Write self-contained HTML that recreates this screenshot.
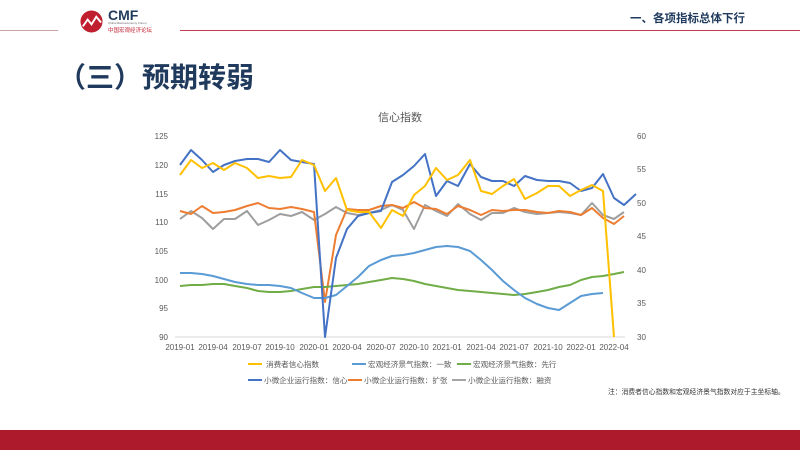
<!DOCTYPE html>
<html><head><meta charset="utf-8"><style>
body{margin:0;width:800px;height:450px;overflow:hidden;background:#fff;font-family:"Liberation Sans","Noto Sans CJK SC",sans-serif;position:relative}
.t{position:absolute;white-space:nowrap}
</style></head><body>
<div style="position:absolute;left:0;top:30px;width:58px;height:1px;background:#c9a4a8"></div>
<div style="position:absolute;left:180px;top:30px;width:620px;height:1px;background:#c04050"></div>
<svg style="position:absolute;left:80px;top:10px" width="23" height="23" viewBox="0 0 24 24"><circle cx="12" cy="12" r="11.5" fill="#c01f2f"/><polyline points="3,17 8,10 12,15 17,7 22,13" fill="none" stroke="#fff" stroke-width="2"/></svg>
<div class="t" style="left:108px;top:7px;font-size:14px;font-weight:bold;color:#1f3a5c">CMF</div>
<div class="t" style="left:108px;top:21px;font-size:3px;color:#666">China Macroeconomy Forum</div>
<div class="t" style="left:108px;top:26px;font-size:5.5px;color:#c01f2f">中国宏观经济论坛</div>
<div class="t" style="left:630px;top:10px;font-size:11.5px;font-weight:bold;color:#1f3a5c">一、各项指标总体下行</div>
<div class="t" style="left:58px;top:56px;font-size:28px;font-weight:bold;color:#1f3a5c">（三）预期转弱</div>
<svg style="position:absolute;left:0;top:0" width="800" height="450" font-family="Liberation Sans, Noto Sans CJK SC, sans-serif">
<text x="400" y="121" font-size="11" fill="#555" text-anchor="middle">信心指数</text>
<line x1="175" y1="337" x2="625" y2="337" stroke="#d9d9d9"/>
<g font-size="8" fill="#595959" text-anchor="end">
<text x="168" y="139">125</text><text x="168" y="168">120</text><text x="168" y="197">115</text><text x="168" y="225">110</text><text x="168" y="254">105</text><text x="168" y="283">100</text><text x="168" y="311">95</text><text x="168" y="340">90</text></g>
<g font-size="8" fill="#595959">
<text x="637" y="139">60</text><text x="637" y="172">55</text><text x="637" y="206">50</text><text x="637" y="239">45</text><text x="637" y="273">40</text><text x="637" y="306">35</text><text x="637" y="340">30</text></g>
<g font-size="8" fill="#595959" text-anchor="middle">
<text x="180" y="350">2019-01</text><text x="213" y="350">2019-04</text><text x="247" y="350">2019-07</text><text x="280" y="350">2019-10</text><text x="314" y="350">2020-01</text><text x="347" y="350">2020-04</text><text x="381" y="350">2020-07</text><text x="414" y="350">2020-10</text><text x="447" y="350">2021-01</text><text x="481" y="350">2021-04</text><text x="514" y="350">2021-07</text><text x="548" y="350">2021-10</text><text x="581" y="350">2022-01</text><text x="614" y="350">2022-04</text></g>
<g fill="none" stroke-width="2" stroke-linejoin="round">
<polyline stroke="#9e9e9e" points="180,219 191,211 202,218 213,229 224,219 235,219 247,211 258,225 269,220 280,214 291,216 302,212 314,220 325,214 336,207 347,213 358,215 369,213 381,210 392,205 403,210 414,229 425,205 436,211 447,216 458,204 470,214 481,220 492,213 503,213 514,208 525,212 537,214 548,213 559,212 570,213 581,215 592,203 603,215 614,219 624,212"/>
<polyline stroke="#ed7d31" points="180,211 191,214 202,206 213,213 224,212 235,210 247,206 258,203 269,208 280,209 291,207 302,209 314,212 325,302 336,235 347,209 358,210 369,210 381,206 392,205 403,208 414,202 425,208 436,209 447,214 458,206 470,210 481,215 492,210 503,211 514,210 525,210 537,212 548,213 559,211 570,212 581,215 592,208 603,218 614,224 624,216"/>
<polyline stroke="#70ad47" points="180,286 191,285 202,285 213,284 224,284 235,286 247,288 258,291 269,292 280,292 291,291 302,289 314,287 325,287 336,286 347,285 358,284 369,282 381,280 392,278 403,279 414,281 425,284 436,286 447,288 458,290 470,291 481,292 492,293 503,294 514,295 525,294 537,292 548,290 559,287 570,285 581,280 592,277 603,276 614,274 624,272"/>
<polyline stroke="#5b9bd5" points="180,273 191,273 202,274 213,276 224,279 235,282 247,284 258,285 269,285 280,286 291,288 302,293 314,298 325,298 336,295 347,286 358,277 369,266 381,260 392,256 403,255 414,253 425,250 436,247 447,246 458,247 470,251 481,260 492,270 503,281 514,290 525,298 537,304 548,308 559,310 570,303 581,296 592,294 603,293"/>
<polyline stroke="#4472c4" points="180,165 191,150 202,160 213,172 224,165 235,161 247,159 258,159 269,162 280,150 291,160 302,162 314,164 325,337 336,258 347,229 358,216 369,213 381,211 392,182 403,175 414,166 425,154 436,196 447,181 458,186 470,164 481,177 492,181 503,181 514,186 525,176 537,180 548,181 559,181 570,183 581,191 592,188 603,174 614,198 624,205 636,194"/>
<polyline stroke="#ffc000" points="180,175 191,160 202,168 213,163 224,170 235,163 247,168 258,178 269,176 280,178 291,177 302,160 314,165 325,191 336,178 347,210 358,212 369,212 381,228 392,210 403,216 414,195 425,186 436,168 447,180 458,175 470,160 481,191 492,194 503,186 514,179 525,199 537,193 548,186 559,186 570,196 581,190 592,185 603,191 614,337"/>
</g>
<g font-size="7.6" fill="#595959">
<line x1="248" y1="364" x2="262" y2="364" stroke="#ffc000" stroke-width="2"/><text x="266" y="367">消费者信心指数</text>
<line x1="352" y1="364" x2="366" y2="364" stroke="#5b9bd5" stroke-width="2"/><text x="368" y="367">宏观经济景气指数：一致</text>
<line x1="457" y1="364" x2="471" y2="364" stroke="#70ad47" stroke-width="2"/><text x="473" y="367">宏观经济景气指数：先行</text>
<line x1="248" y1="380" x2="262" y2="380" stroke="#4472c4" stroke-width="2"/><text x="264" y="383">小微企业运行指数：信心</text>
<line x1="348" y1="380" x2="362" y2="380" stroke="#ed7d31" stroke-width="2"/><text x="364" y="383">小微企业运行指数：扩张</text>
<line x1="452" y1="380" x2="466" y2="380" stroke="#a5a5a5" stroke-width="2"/><text x="468" y="383">小微企业运行指数：融资</text>
<text x="608" y="394" fill="#333" font-size="6.8">注：消费者信心指数和宏观经济景气指数对应于主坐标轴。</text>
</g>
</svg>
<div style="position:absolute;left:0;top:430px;width:800px;height:20px;background:#ad1a2b"></div>
</body></html>
